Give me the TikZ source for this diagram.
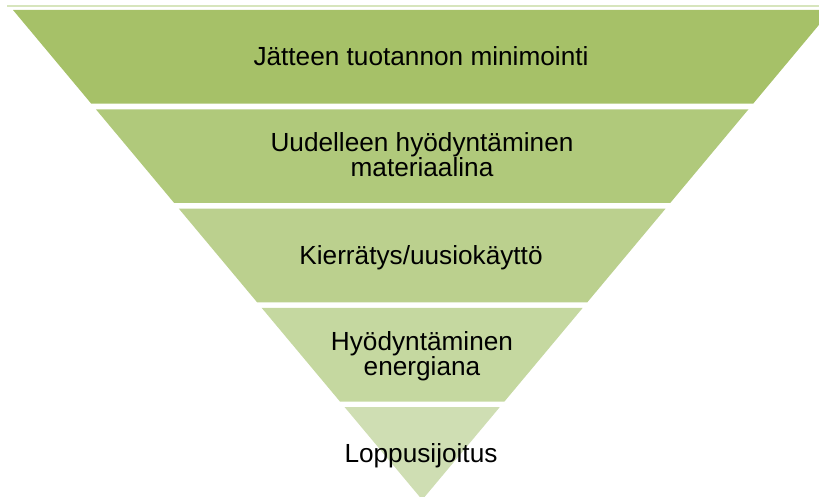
\documentclass[tikz,border=0pt]{standalone}
\usepackage{fontspec}
\setmainfont{Liberation Sans}
\definecolor{bandA}{HTML}{A6C168}
\definecolor{bandB}{HTML}{B0C97B}
\definecolor{bandC}{HTML}{BBD08E}
\definecolor{bandD}{HTML}{C5D8A0}
\definecolor{bandE}{HTML}{CFDEB3}
\definecolor{rule}{HTML}{D7E5BD}
\tikzset{
  band/.style={draw=none},
  label/.style={inner sep=0pt, align=center, text=black,
    font=\fontsize{26.2}{25.2}\selectfont},
}
\begin{document}
\begin{tikzpicture}[x=1pt,y=-1pt]
  \useasboundingbox (0,0) rectangle (819,497);
  \clip (0,0) rectangle (819,497);
  % thin rule above the pyramid
  \draw[rule, line width=1.5pt] (7,6) -- (819,6);
  % inverted pyramid, cut into five bands
  \fill[bandA] (13,10) -- (831.4,10) -- (753.2,103.6) -- (91.2,103.6) -- cycle;
  \fill[bandB] (95.9,109.3) -- (748.5,109.3) -- (670.2,203) -- (174.2,203) -- cycle;
  \fill[bandC] (178.8,208.6) -- (665.6,208.6) -- (587.3,302.3) -- (257.1,302.3) -- cycle;
  \fill[bandD] (261.7,307.9) -- (582.7,307.9) -- (504.3,401.7) -- (340.1,401.7) -- cycle;
  \fill[bandE] (344.7,407.2) -- (499.7,407.2) -- (422.2,499.8) -- cycle;
  % band captions
  \node[label, anchor=base] (l1) at (421,66) {Jätteen tuotannon minimointi};
  \node[label] (l2) at (422,155) {Uudelleen hyödyntäminen\\materiaalina};
  \node[label, anchor=base] (l3) at (421,264.3) {Kierrätys/uusiokäyttö};
  \node[label] (l4) at (422,356.4) {Hyödyntäminen\\energiana};
  \node[label, anchor=base] (l5) at (421,462.7) {Loppusijoitus};
\end{tikzpicture}
\end{document}
